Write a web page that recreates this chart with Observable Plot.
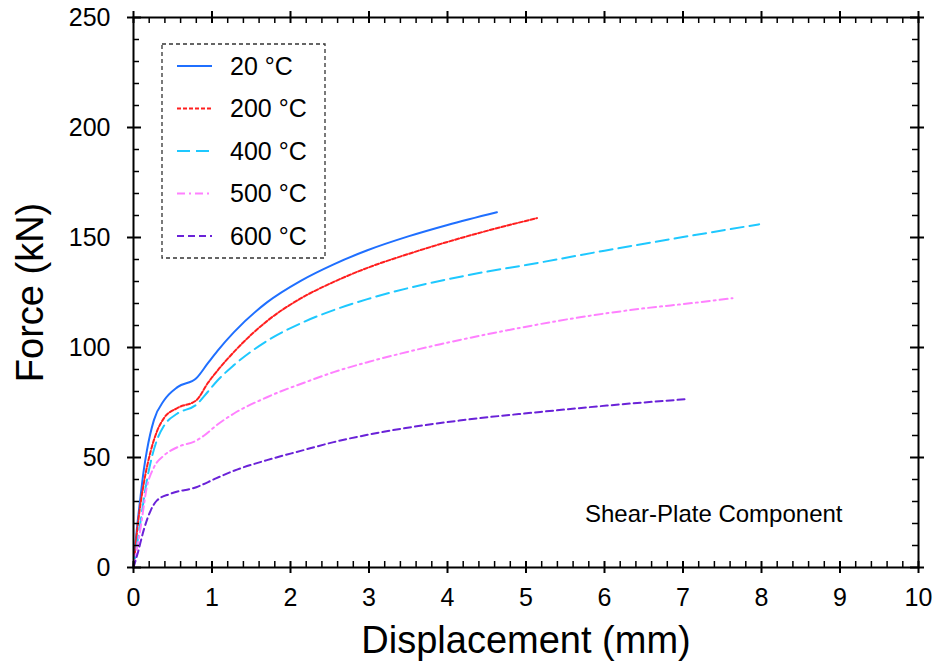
<!DOCTYPE html>
<html>
<head>
<meta charset="utf-8">
<script src="https://cdn.jsdelivr.net/npm/d3@7"></script>
<script src="https://cdn.jsdelivr.net/npm/@observablehq/plot@0.6"></script>
<style>
  html, body { margin: 0; padding: 0; background: #fff; }
  #chart { width: 940px; height: 666px; }
</style>
</head>
<body>
<div id="chart"></div>
<script>
// ---- data ----
const seriesNames = ["20 °C", "200 °C", "400 °C", "500 °C", "600 °C"];

const disp20 = [0, 0.017, 0.089, 0.13, 0.17, 0.26, 0.39, 0.56, 0.8, 0.95, 1.07, 1.28, 1.7, 2.13, 2.55, 2.98, 3.5, 4.0, 4.63];
const force20 = [0, 7.7, 32, 44, 53, 67, 76, 82, 86, 93, 98.5, 107, 120.5, 130.3, 137.8, 144.2, 150.5, 155.7, 161.5];

const disp200 = [0, 0.05, 0.13, 0.22, 0.3, 0.39, 0.56, 0.8, 0.95, 1.07, 1.28, 1.7, 2.13, 2.55, 2.98, 3.5, 4.0, 4.5, 5.14];
const force200 = [0, 18, 38, 53, 62, 68, 72.5, 76, 84, 89.5, 98, 112, 122.3, 129.8, 136.2, 142.5, 148, 153, 158.8];

const disp400 = [0, 0.09, 0.17, 0.24, 0.3, 0.39, 0.56, 0.8, 0.95, 1.07, 1.28, 1.7, 2.13, 2.55, 2.98, 3.5, 4.0, 4.5, 5.0, 6.0, 7.0, 7.97];
const force400 = [0, 21, 39.5, 51, 58, 64.5, 70, 74, 80, 85, 92, 103, 111, 117, 122, 127, 131, 134.5, 137.5, 144, 150.2, 156];

const disp500 = [0, 0.09, 0.17, 0.26, 0.39, 0.56, 0.8, 0.9, 1.07, 1.28, 1.7, 2.25, 2.55, 3.0, 3.4, 3.91, 4.76, 5.61, 6.46, 7.14, 7.63];
const force500 = [0, 18, 36.5, 45.5, 51, 54.7, 57.7, 60, 65, 70, 77.4, 85, 88.8, 93.5, 97.2, 101.5, 107.8, 113.3, 117.6, 120.3, 122.4];

const disp600 = [0, 0.05, 0.13, 0.22, 0.3, 0.47, 0.8, 1.05, 1.28, 1.7, 2.13, 2.55, 2.98, 3.4, 4.15, 5.18, 6.03, 7.07];
const force600 = [0, 6, 17, 26, 30.5, 33.5, 36.5, 40.5, 44, 48.8, 53, 57, 60.3, 63, 66.8, 70.7, 73.6, 76.6];

const xTickLabels = [0, 1, 2, 3, 4, 5, 6, 7, 8, 9, 10];
const yTickLabels = [0, 50, 100, 150, 200, 250];

// ---- styles ----
const colors = ["#1f6fff", "#ff1f1f", "#1ec8ff", "#ff80ff", "#6a22d8"];
const dashes = [null, "4,2", "13,6", "8,4,2,4", "7,4"];

const W = 940, H = 666;
const mL = 133, mR = 22, mT = 17, mB = 99;
const plotW = W - mL - mR, plotH = H - mT - mB;

const allX = [disp20, disp200, disp400, disp500, disp600];
const allY = [force20, force200, force400, force500, force600];
const rows = [];
allX.forEach((xs, i) => xs.forEach((x, j) => rows.push({series: seriesNames[i], disp: x, force: allY[i][j]})));

const xMinor = d3.range(0, 10.0001, 0.2).filter(v => Math.abs(v - Math.round(v)) > 1e-6);
const yMinor = d3.range(0, 250.0001, 10).filter(v => v % 50 !== 0);

const font = "Liberation Sans, Arial, Helvetica, sans-serif";

const lineMarks = seriesNames.map((name, i) =>
  Plot.line(rows.filter(r => r.series === name), {
    x: "disp", y: "force", stroke: colors[i], strokeWidth: 2,
    strokeDasharray: dashes[i] || undefined, curve: "monotone-x"
  })
);

const chart = Plot.plot({
  width: W, height: H,
  marginLeft: mL, marginRight: mR, marginTop: mT, marginBottom: mB,
  style: {fontFamily: font, background: "#fff", color: "#000"},
  x: {domain: [0, 10], label: null},
  y: {domain: [0, 250], label: null},
  marks: [
    ...lineMarks,
    Plot.frame({stroke: "#000", strokeWidth: 2}),
    // bottom ticks
    Plot.tickX(xMinor, {x: d => d, insetTop: plotH - 6, stroke: "#000", strokeWidth: 1.5}),
    Plot.tickX(xTickLabels, {x: d => d, insetTop: plotH - 6, insetBottom: -6, stroke: "#000", strokeWidth: 2}),
    // top ticks
    Plot.tickX(xMinor, {x: d => d, insetBottom: plotH - 6, stroke: "#000", strokeWidth: 1.5}),
    Plot.tickX(xTickLabels, {x: d => d, insetBottom: plotH - 6, insetTop: -6, stroke: "#000", strokeWidth: 2}),
    // left ticks
    Plot.tickY(yMinor, {y: d => d, insetRight: plotW - 6, stroke: "#000", strokeWidth: 1.5}),
    Plot.tickY(yTickLabels, {y: d => d, insetRight: plotW - 8, insetLeft: -6, stroke: "#000", strokeWidth: 2}),
    // right ticks
    Plot.tickY(yMinor, {y: d => d, insetLeft: plotW - 6, stroke: "#000", strokeWidth: 1.5}),
    Plot.tickY(yTickLabels, {y: d => d, insetLeft: plotW - 8, insetRight: -6, stroke: "#000", strokeWidth: 2}),
    // tick labels
    Plot.axisX(xTickLabels, {anchor: "bottom", tickSize: 0, tickPadding: 21, fontSize: 25, tickFormat: d => String(d), label: null}),
    Plot.axisY(yTickLabels, {anchor: "left", tickSize: 0, tickPadding: 23, fontSize: 25, tickFormat: d => String(d), label: null}),
    // axis titles
    Plot.text(["Displacement (mm)"], {frameAnchor: "bottom", lineAnchor: "middle", textAnchor: "middle", dy: 73, fontSize: 38, fill: "#000"}),
    Plot.text(["Force (kN)"], {frameAnchor: "left", lineAnchor: "middle", textAnchor: "middle", dx: -103, rotate: -90, fontSize: 38, fill: "#000"}),
    // annotation
    Plot.text(["Shear-Plate Component"], {frameAnchor: "bottom-right", lineAnchor: "middle", textAnchor: "end", dx: -76, dy: -53, fontSize: 24, fill: "#000"})
  ]
});

// ---- legend (inside the plot, top-left) ----
const svg = d3.select(chart);
const lg = svg.append("g").attr("class", "legend").attr("text-anchor", "start");
lg.append("rect")
  .attr("x", 162).attr("y", 44).attr("width", 163).attr("height", 214)
  .attr("fill", "#fff").attr("stroke", "#333").attr("stroke-width", 1.3)
  .attr("stroke-dasharray", "4,3");
const rowY = [66, 108.5, 151, 193.5, 236];
seriesNames.forEach((name, i) => {
  lg.append("line")
    .attr("x1", 177).attr("x2", 212).attr("y1", rowY[i]).attr("y2", rowY[i])
    .attr("stroke", colors[i]).attr("stroke-width", 2)
    .attr("stroke-dasharray", dashes[i]);
  lg.append("text")
    .attr("x", 230).attr("y", rowY[i]).attr("dy", "0.35em")
    .attr("text-anchor", "start")
    .style("font-size", "25px").style("font-family", font).attr("fill", "#000")
    .text(name);
});

document.getElementById("chart").appendChild(chart);
</script>
</body>
</html>
